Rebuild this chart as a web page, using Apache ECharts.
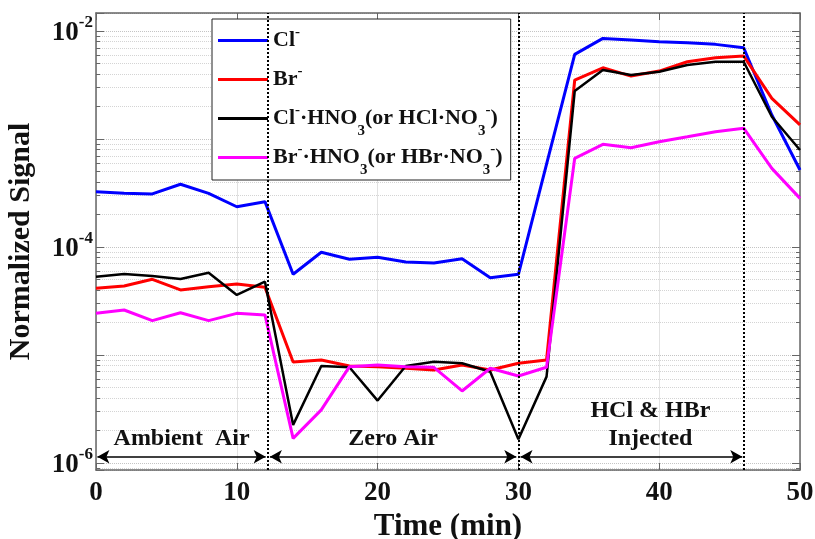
<!DOCTYPE html>
<html>
<head>
<meta charset="utf-8">
<script src="https://cdn.jsdelivr.net/npm/echarts@6/dist/echarts.min.js"></script>
<style>
  html, body { margin: 0; padding: 0; background: #fff; }
  #chart { width: 815px; height: 539px; }
</style>
</head>
<body>
<div id="chart"></div>
<script>
  // sampling times (min)
  const times = [0, 2, 4, 6, 8, 10, 12, 14, 16, 18, 20, 22, 24, 26, 28, 30, 32, 34, 36, 38, 40, 42, 44, 46, 48, 50]
  // normalized signals
  const clIon = [3.25e-4, 3.14e-4, 3.10e-4, 3.81e-4, 3.14e-4, 2.36e-4, 2.63e-4, 5.59e-5, 8.93e-5, 7.69e-5, 8.03e-5, 7.26e-5, 7.11e-5,
    7.79e-5, 5.20e-5, 5.59e-5, 5.87e-4, 6.08e-3, 8.55e-3, 8.26e-3, 7.96e-3, 7.79e-3, 7.53e-3, 7.00e-3, 1.67e-3, 5.16e-4]
  const brIon = [4.15e-5, 4.35e-5, 5.02e-5, 4.00e-5, 4.29e-5, 4.54e-5, 4.24e-5, 8.61e-6, 8.99e-6, 7.91e-6, 7.79e-6, 7.53e-6, 7.26e-6,
    8.07e-6, 7.26e-6, 8.38e-6, 8.99e-6, 3.52e-3, 4.57e-3, 3.83e-3, 4.26e-3, 5.20e-3, 5.66e-3, 5.87e-3, 2.38e-3, 1.35e-3]
  const clHno3 = [5.31e-5, 5.62e-5, 5.39e-5, 5.06e-5, 5.78e-5, 3.60e-5, 4.77e-5, 2.25e-6, 7.91e-6, 7.69e-6, 3.78e-6, 7.91e-6, 8.67e-6,
    8.38e-6, 7.00e-6, 1.66e-6, 6.30e-6, 2.78e-3, 4.35e-3, 3.91e-3, 4.20e-3, 4.85e-3, 5.20e-3, 5.20e-3, 1.61e-3, 7.91e-4]
  const brHno3 = [2.43e-5, 2.61e-5, 2.08e-5, 2.46e-5, 2.08e-5, 2.43e-5, 2.35e-5, 1.69e-6, 3.10e-6, 7.79e-6, 8.07e-6, 7.79e-6, 7.69e-6,
    4.64e-6, 7.53e-6, 6.39e-6, 7.69e-6, 6.63e-4, 8.93e-4, 8.30e-4, 9.44e-4, 1.05e-3, 1.17e-3, 1.26e-3, 5.35e-4, 2.82e-4]

  // phase boundaries and labels
  const phaseEdges = [12.2, 30, 46]
  const phases = [
    {from: 0.1, to: 12.05, label: 'Ambient  Air'},
    {from: 12.35, to: 29.85, label: 'Zero Air'},
    {from: 30.15, to: 45.9, label: 'HCl & HBr\nInjected'}
  ]
  const arrowLevel = 1.14e-6

  const serif = 'Liberation Serif, Times New Roman, serif'
  const txt = '#111'

  // sup/sub via rich text, trailing {sb| } keeps row heights even
  const legendText = {
    'Cl⁻': '{n|Cl}{sp|-}{sb| }',
    'Br⁻': '{n|Br}{sp|-}{sb| }',
    'Cl⁻·HNO₃(or HCl·NO₃⁻)': '{n|Cl}{sp|-}{n|·HNO}{sb|3}{n|(or HCl·NO}{sb|3}{sp|-}{n|)}',
    'Br⁻·HNO₃(or HBr·NO₃⁻)': '{n|Br}{sp|-}{n|·HNO}{sb|3}{n|(or HBr·NO}{sb|3}{sp|-}{n|)}'
  }

  function pairs (values) {
    return times.map((t, i) => [t, values[i]])
  }

  function powerLabel (value) {
    const e = Math.log10(value)
    const r = Math.round(e)
    if (Math.abs(e - r) > 0.01 || r % 2 !== 0) return ''
    return '{b|10}{s|' + r + '}'
  }

  const chart = echarts.init(document.getElementById('chart'))

  const logAxis = {
    type: 'log',
    logBase: 10,
    min: 8.6e-7,
    max: 1.47e-2,
    axisLine: {show: true, onZero: false, lineStyle: {color: '#666', width: 1.5}},
    axisTick: {show: true, inside: true, length: 8, lineStyle: {color: '#666'}},
    minorTick: {show: true, splitNumber: 9, length: 4, lineStyle: {color: '#666'}}
  }

  const option = {
    animation: false,
    backgroundColor: '#fff',
    grid: {left: 96, right: 15, top: 13, bottom: 69, outerBoundsMode: 'none'},
    legend: {
      orient: 'vertical',
      left: 212,
      top: 19,
      padding: [6, 8, 2, 6],
      itemGap: 3,
      itemWidth: 50,
      itemHeight: 3,
      icon: 'rect',
      selectedMode: false,
      backgroundColor: '#fff',
      borderColor: '#222',
      borderWidth: 1,
      formatter: name => legendText[name],
      textStyle: {
        rich: {
          n: {fontSize: 22, fontWeight: 'bold', fontFamily: serif, color: txt, lineHeight: 30},
          sp: {fontSize: 15, fontWeight: 'bold', fontFamily: serif, color: txt, padding: [0, 0, 16, 0]},
          sb: {fontSize: 15, fontWeight: 'bold', fontFamily: serif, color: txt, padding: [26, 0, 0, 0]}
        }
      }
    },
    xAxis: [{
      type: 'value',
      min: 0,
      max: 50,
      interval: 10,
      name: 'Time (min)',
      nameLocation: 'middle',
      nameGap: 40,
      nameTextStyle: {fontSize: 31, fontWeight: 'bold', fontFamily: serif, color: txt},
      axisLine: {show: true, onZero: false, lineStyle: {color: '#666', width: 1.5}},
      axisTick: {show: true, inside: true, length: 7, lineStyle: {color: '#666'}},
      axisLabel: {fontSize: 27, fontWeight: 'bold', fontFamily: serif, color: txt, margin: 10},
      splitLine: {show: true, lineStyle: {color: '#e2e2e2', width: 1}}
    }, {
      type: 'value',
      position: 'top',
      min: 0,
      max: 50,
      interval: 10,
      axisLine: {show: true, onZero: false, lineStyle: {color: '#666', width: 1.5}},
      axisTick: {show: true, inside: true, length: 7, lineStyle: {color: '#666'}},
      axisLabel: {show: false},
      splitLine: {show: false}
    }],
    yAxis: [Object.assign({}, logAxis, {
      position: 'left',
      name: 'Normalized Signal',
      nameLocation: 'middle',
      nameGap: 60,
      nameTextStyle: {fontSize: 30, fontWeight: 'bold', fontFamily: serif, color: txt},
      axisLabel: {
        formatter: powerLabel,
        showMinLabel: false,
        showMaxLabel: false,
        margin: 3,
        rich: {
          b: {fontSize: 27, fontWeight: 'bold', fontFamily: serif, color: txt, lineHeight: 30, padding: [4, 0, 0, 0]},
          s: {fontSize: 17, fontWeight: 'bold', fontFamily: serif, color: txt, padding: [0, 0, 16, 0]}
        }
      },
      splitLine: {show: true, lineStyle: {type: 'dotted', color: '#c4c4c4', width: 1}},
      minorSplitLine: {show: true, lineStyle: {type: 'dotted', color: '#d4d4d4', width: 1}}
    }), Object.assign({}, logAxis, {
      position: 'right',
      axisLabel: {show: false},
      splitLine: {show: false}
    })],
    series: [{
      name: 'Cl⁻',
      type: 'line',
      data: pairs(clIon),
      symbol: 'none',
      color: '#0000ff',
      lineStyle: {width: 3},
      markLine: {
        silent: true,
        symbol: 'none',
        label: {show: false},
        lineStyle: {color: '#000', type: 'dotted', width: 2},
        data: phaseEdges.map(x => ({xAxis: x}))
      }
    }, {
      name: 'Br⁻',
      type: 'line',
      data: pairs(brIon),
      symbol: 'none',
      color: '#ff0000',
      lineStyle: {width: 3}
    }, {
      name: 'Cl⁻·HNO₃(or HCl·NO₃⁻)',
      type: 'line',
      data: pairs(clHno3),
      symbol: 'none',
      color: '#000000',
      lineStyle: {width: 2.5}
    }, {
      name: 'Br⁻·HNO₃(or HBr·NO₃⁻)',
      type: 'line',
      data: pairs(brHno3),
      symbol: 'none',
      color: '#ff00ff',
      lineStyle: {width: 3},
      markLine: {
        silent: true,
        symbol: ['arrow', 'arrow'],
        symbolSize: [10, 12],
        lineStyle: {color: '#000', type: 'solid', width: 1.5},
        label: {
          show: true,
          position: 'insideMiddleTop',
          distance: 4,
          fontSize: 24,
          fontWeight: 'bold',
          fontFamily: serif,
          color: txt,
          lineHeight: 28
        },
        data: phases.map((p, i) => [
          {coord: [p.from, arrowLevel], label: {formatter: p.label, padding: i === 2 ? [0, 0, 0, 38] : 0}},
          {coord: [p.to, arrowLevel]}
        ])
      }
    }]
  }

  chart.setOption(option)
</script>
</body>
</html>
